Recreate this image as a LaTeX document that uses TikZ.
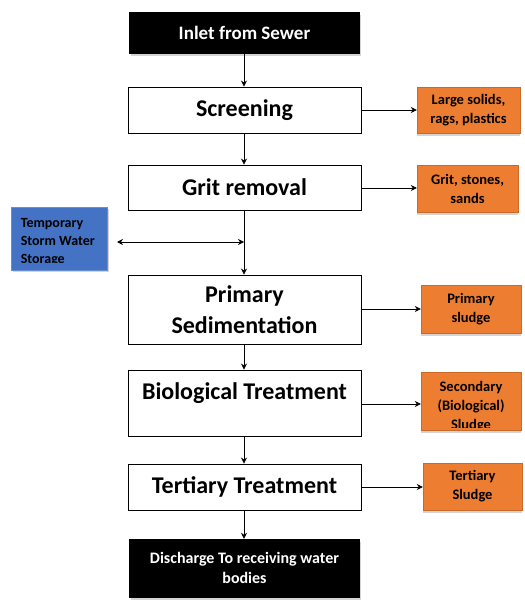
\documentclass[tikz,border=0pt]{standalone}
\usepackage{fontspec}
\setmainfont{Carlito}
\usetikzlibrary{arrows.meta,shadows}
\definecolor{offorange}{HTML}{ED7D31}
\definecolor{offblue}{HTML}{4472C4}
\definecolor{shadowgray}{HTML}{D6D3D0}
\begin{document}
\begin{tikzpicture}[x=1pt,y=-1pt,
  mainbox/.style={draw=black, line width=0.9pt, fill=white, minimum width=233pt, inner sep=0pt, font=\bfseries\fontsize{24}{31}\selectfont, align=center},
  endbox/.style={draw=black, fill=black, text=white, minimum width=230pt, inner sep=0pt, align=center,
     drop shadow={shadow xshift=1.5pt, shadow yshift=-3pt, fill=shadowgray, opacity=1}},
  sidebox/.style={draw=offorange!85!black, line width=0.4pt, fill=offorange, inner sep=0pt, font=\bfseries\fontsize{14.5}{19}\selectfont, align=center,
     drop shadow={shadow xshift=0pt, shadow yshift=-3pt, fill=shadowgray, opacity=1}},
  flow/.style={-{Stealth[length=6pt,width=6pt]}, line width=0.8pt},
  dflow/.style={{Stealth[length=6pt,width=6pt]}-{Stealth[length=6pt,width=6pt]}, line width=0.8pt}
]
\useasboundingbox (0,0) rectangle (524,601);

% main column
\node[endbox, minimum height=41pt, font=\bfseries\fontsize{19}{20}\selectfont] (inlet) at (244.5,33) {Inlet from Sewer};
\node[mainbox, minimum height=46pt] (screen) at (244.5,110) {Screening};
\node[mainbox, minimum height=45pt] (grit) at (244.5,187.5) {Grit removal};
\node[mainbox, minimum height=69pt] (prim) at (244.5,309.5) {Primary\\Sedimentation};
\node[mainbox, minimum height=66pt] (bio) at (244.5,403) {};
\node[font=\bfseries\fontsize{24}{31}\selectfont, inner sep=0pt] (biotext) at (244.5,393) {Biological Treatment};
\node[mainbox, minimum height=46pt] (tert) at (244.5,487) {Tertiary Treatment};
\node[endbox, minimum height=58pt, font=\bfseries\fontsize{16}{20}\selectfont] (disch) at (244.5,568) {Discharge To receiving water\\bodies};

% side boxes
\node[sidebox, minimum width=103pt, minimum height=46pt] (s1) at (468.5,110) {Large solids,\\rags, plastics};
\node[sidebox, minimum width=101pt, minimum height=47pt] (s2) at (467.5,188.5) {Grit, stones,\\sands};
\node[sidebox, minimum width=100pt, minimum height=48pt] (s3) at (471,309) {Primary\\sludge};
\node[sidebox, minimum width=100pt, minimum height=58pt] (s4) at (471,401) {};
\begin{scope}
  \clip ([xshift=2pt,yshift=3pt]s4.south west) rectangle (s4.north east);
  \node[font=\bfseries\fontsize{14.5}{19}\selectfont, align=center, anchor=north, inner sep=0pt] (s4text) at ([yshift=-9pt]s4.north) {Secondary\\(Biological)\\Sludge};
\end{scope}
\node[sidebox, minimum width=99pt, minimum height=47pt] (s5) at (472.5,486.5) {Tertiary\\Sludge};

% storm water storage
\node[draw=offblue!80!white, line width=0.8pt, fill=offblue, minimum width=96pt, minimum height=63pt, inner sep=0pt,
      drop shadow={shadow xshift=2pt, shadow yshift=-2pt, fill=shadowgray, opacity=1}] (storm) at (59,238.5) {};
\begin{scope}
  \clip ([xshift=3pt,yshift=8pt]storm.south west) rectangle ([xshift=-3pt]storm.north east);
  \node[font=\bfseries\fontsize{14}{18}\selectfont, align=left, anchor=north west, inner sep=0pt] (stormtext) at ([xshift=10pt,yshift=-12pt]storm.north west) {Temporary\\Storm Water\\Storage};
\end{scope}

% connectors
\coordinate (j) at (244,242);
\coordinate (stormend) at (117,242);
\draw[flow] (inlet.south -| 244,0) -- (screen.north -| 244,0);
\draw[flow] (screen.south -| 244,0) -- (grit.north -| 244,0);
\draw[flow] (grit.south -| 244,0) -- (prim.north -| 244,0);
\draw[dflow] (stormend) -- (j);
\draw[flow] (prim.south -| 244,0) -- (bio.north -| 244,0);
\draw[flow] (bio.south -| 244,0) -- (tert.north -| 244,0);
\draw[flow] (tert.south -| 244,0) -- (disch.north -| 244,0);

\draw[flow] (screen.east |- 0,110) -- (s1.west |- 0,110);
\draw[flow] (grit.east |- 0,188) -- (s2.west |- 0,188);
\draw[flow] (prim.east |- 0,309) -- (s3.west |- 0,309);
\draw[flow] (bio.east |- 0,404) -- (s4.west |- 0,404);
\draw[flow] (tert.east |- 0,487) -- (s5.west |- 0,487);
\end{tikzpicture}
\end{document}
